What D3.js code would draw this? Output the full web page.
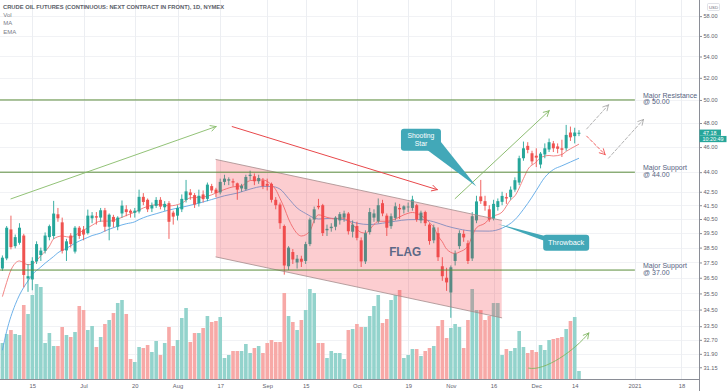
<!DOCTYPE html>
<html><head><meta charset="utf-8">
<script src="https://cdn.jsdelivr.net/npm/d3@7"></script>
<style>html,body{margin:0;padding:0;background:#fff;overflow:hidden}svg{display:block;font-family:"Liberation Sans",Arial,sans-serif}</style>
</head><body><svg id="c" width="728" height="391"></svg>
<script>
// ---------------- DATA ----------------
const dates = ["2020-06-04","2020-06-05","2020-06-08","2020-06-09","2020-06-10","2020-06-11","2020-06-12","2020-06-15","2020-06-16","2020-06-17","2020-06-18","2020-06-19","2020-06-22","2020-06-23","2020-06-24","2020-06-25","2020-06-26","2020-06-29","2020-06-30",
"2020-07-01","2020-07-02","2020-07-06","2020-07-07","2020-07-08","2020-07-09","2020-07-10","2020-07-13","2020-07-14","2020-07-15","2020-07-16","2020-07-17","2020-07-20","2020-07-21","2020-07-22","2020-07-23","2020-07-24","2020-07-27","2020-07-28","2020-07-29","2020-07-30","2020-07-31",
"2020-08-03","2020-08-04","2020-08-05","2020-08-06","2020-08-07","2020-08-10","2020-08-11","2020-08-12","2020-08-13","2020-08-14","2020-08-17","2020-08-18","2020-08-19","2020-08-20","2020-08-21","2020-08-24","2020-08-25","2020-08-26","2020-08-27","2020-08-28","2020-08-31",
"2020-09-01","2020-09-02","2020-09-03","2020-09-04","2020-09-08","2020-09-09","2020-09-10","2020-09-11","2020-09-14","2020-09-15","2020-09-16","2020-09-17","2020-09-18","2020-09-21","2020-09-22","2020-09-23","2020-09-24","2020-09-25","2020-09-28","2020-09-29","2020-09-30",
"2020-10-01","2020-10-02","2020-10-05","2020-10-06","2020-10-07","2020-10-08","2020-10-09","2020-10-12","2020-10-13","2020-10-14","2020-10-15","2020-10-16","2020-10-19","2020-10-20","2020-10-21","2020-10-22","2020-10-23","2020-10-26","2020-10-27","2020-10-28","2020-10-29","2020-10-30",
"2020-11-02","2020-11-03","2020-11-04","2020-11-05","2020-11-06","2020-11-09","2020-11-10","2020-11-11","2020-11-12","2020-11-13","2020-11-16","2020-11-17","2020-11-18","2020-11-19","2020-11-20","2020-11-23","2020-11-24","2020-11-25","2020-11-27","2020-11-30",
"2020-12-01","2020-12-02","2020-12-03","2020-12-04","2020-12-07","2020-12-08","2020-12-09","2020-12-10","2020-12-11","2020-12-14","2020-12-15"];

const open = [37.10,37.77,39.76,38.60,38.83,39.33,36.45,36.39,37.57,38.00,
38.28,39.22,39.30,40.84,40.26,38.31,39.33,38.23,39.88,39.75,
39.50,40.55,40.70,40.60,41.13,39.95,40.65,39.95,40.90,41.20,
41.10,40.95,41.04,42.12,41.90,41.26,41.45,41.90,41.35,41.65,
40.96,40.74,41.20,41.89,42.45,42.25,41.65,42.30,41.97,42.93,
42.66,42.45,43.25,43.35,43.30,43.14,42.75,42.69,43.70,43.68,
43.30,43.35,43.10,43.10,41.90,41.55,40.00,37.25,38.20,37.50,
37.75,37.60,38.74,40.46,41.45,41.50,39.70,39.85,39.95,40.40,
40.60,40.89,39.60,40.00,39.00,37.57,39.57,40.60,40.34,41.65,
40.74,39.99,40.58,41.30,41.18,41.35,41.30,41.50,40.40,41.00,
40.10,39.00,39.50,37.25,36.50,35.56,37.60,38.60,39.45,38.80,
37.77,40.40,42.15,41.80,41.20,40.53,41.37,41.75,42.10,42.10,
42.66,43.20,45.10,46.10,45.50,45.30,44.60,45.40,45.80,46.30,
46.05,45.90,45.90,47.20,46.90,47.10];

const high = [37.97,40.00,40.74,39.40,40.20,39.45,37.40,37.85,38.93,38.50,
39.55,40.10,41.82,41.30,40.60,39.10,39.50,40.00,40.00,40.00,
41.18,41.00,41.00,41.30,41.30,40.90,40.80,40.70,41.85,41.50,
41.20,41.30,42.66,42.40,42.00,41.70,42.10,42.10,41.80,41.80,
41.10,41.50,42.30,43.40,42.70,42.40,42.66,42.60,43.20,43.10,
42.80,43.50,43.80,43.60,43.50,43.20,43.10,43.80,44.12,43.90,
43.80,43.55,43.50,43.20,42.10,41.70,40.10,38.60,38.40,38.00,
37.95,38.90,40.60,41.40,41.97,41.60,40.10,40.20,40.70,41.00,
41.10,41.00,40.40,40.30,39.20,39.70,41.30,41.20,42.00,41.90,
40.90,40.90,41.70,41.60,41.50,41.70,42.20,41.60,41.10,41.10,
40.20,40.10,39.90,37.85,37.15,37.30,38.30,39.70,39.70,39.00,
41.00,42.20,43.40,42.20,41.50,41.90,42.00,42.50,42.40,42.90,
43.60,45.30,46.45,46.40,45.70,45.90,45.60,46.30,46.70,46.50,
46.30,46.60,47.84,47.70,47.60,47.40];

const low = [36.95,37.65,38.38,38.45,38.70,35.88,35.60,35.70,37.40,37.60,
38.10,39.00,39.10,40.30,38.10,37.60,38.50,38.10,39.10,39.00,
39.40,40.20,40.10,40.30,39.60,39.00,39.90,39.70,40.60,40.70,
40.60,40.60,40.90,41.50,41.00,41.00,41.30,41.20,41.10,39.10,
40.10,40.40,41.00,41.70,41.90,41.30,41.40,41.70,41.80,42.40,
42.10,42.30,43.00,43.00,42.90,41.90,42.50,42.60,43.40,43.00,
43.10,42.70,42.60,41.70,41.20,39.80,36.70,37.00,37.40,37.10,
37.20,37.40,38.60,40.20,41.20,39.30,39.30,39.60,39.70,40.10,
40.30,39.40,39.20,39.00,37.20,37.40,39.40,40.30,40.20,40.70,
39.30,39.80,40.40,40.50,40.90,41.00,41.10,40.30,40.20,40.00,
38.70,38.80,37.60,36.30,35.66,34.00,37.30,38.40,38.90,37.40,
37.60,40.20,41.60,41.10,40.30,40.40,41.10,41.50,41.60,41.90,
42.50,43.00,44.90,45.50,44.60,44.40,44.30,45.10,45.60,45.60,
45.50,45.20,45.70,46.50,46.30,46.90];

const close = [37.82,39.88,38.53,39.22,39.88,36.68,36.60,37.61,38.74,38.30,
39.33,39.99,40.89,40.55,38.28,38.93,38.74,39.88,39.30,39.40,
40.74,40.75,40.60,41.13,39.95,40.81,40.30,40.60,41.47,41.00,
40.95,41.10,42.12,41.74,41.20,41.50,41.89,41.40,41.60,40.30,
40.67,41.30,41.97,42.53,42.25,41.55,42.20,41.95,43.04,42.60,
42.41,43.25,43.50,43.45,43.20,42.66,42.95,43.63,43.80,43.30,
43.55,42.93,42.95,41.90,41.50,40.20,37.30,38.50,37.70,37.75,
37.55,38.74,40.46,41.20,41.35,39.50,39.80,39.95,40.60,40.85,
40.90,39.63,40.10,39.17,37.57,39.50,41.00,40.90,41.50,40.90,
39.88,40.70,41.42,41.20,41.42,41.40,41.92,40.46,40.96,40.20,
38.95,39.90,37.85,36.60,36.20,37.18,38.10,39.50,39.20,37.60,
40.70,41.78,41.80,41.45,40.46,41.60,41.80,42.19,42.00,42.66,
43.38,45.10,45.90,45.77,44.85,45.15,45.47,45.90,46.40,45.90,
45.86,45.78,47.00,46.80,47.20,47.18];

// volume, thousands of contracts
const volume = [252,315,343,315,308,518,455,588,665,644,
252,322,231,231,364,308,294,329,511,483,
343,371,224,294,385,413,462,532,553,455,
140,119,224,217,238,189,266,168,252,364,
231,273,427,497,259,322,322,357,441,399,
406,434,147,168,196,196,196,245,182,217,
231,182,252,273,259,259,602,441,399,343,
413,483,630,602,252,252,147,196,182,182,
140,343,350,385,364,364,441,511,588,392,
420,553,588,623,147,168,210,210,161,196,
217,231,371,413,287,357,385,364,217,413,
630,483,483,413,441,532,532,168,210,196,
217,336,224,182,203,189,238,203,273,280,
287,294,350,406,434,56];

// MA and EMA readings: [bar index, value]
const maPts = [[0,35.3],[1,36.2],[2,37.0],[4,37.6],[6,37.35],[7,37.4],[9,37.95],[11,38.6],[12,39.1],[14,39.3],[16,39.2],[17,39.35],[19,39.7],[21,40.05],[23,40.35],[25,40.35],[27,40.5],[29,40.75],[31,41.0],[33,41.3],[35,41.5],[37,41.55],[39,41.45],[42,41.65],[44,42.05],[47,42.1],[49,42.27],[51,42.55],[54,42.87],[56,42.95],[58,43.35],[61,43.4],[63,43.03],[64,42.66],[65,42.0],[66,41.3],[67,40.5],[68,39.9],[70,39.3],[72,39.64],[73,40.4],[74,40.8],[76,40.62],[78,40.5],[79,40.58],[81,40.4],[82,40.1],[84,39.55],[85,39.5],[87,40.1],[88,40.34],[90,40.34],[92,40.5],[94,40.8],[96,40.97],[98,40.75],[100,40.25],[101,39.9],[102,39.3],[103,38.9],[104,38.4],[106,38.1],[107,38.2],[109,38.6],[110,39.3],[111,39.88],[113,40.2],[114,40.5],[115,40.7],[117,41.0],[119,41.9],[120,42.2],[122,43.5],[123,44.2],[125,44.8],[126,45.15],[128,45.32],[129,45.28],[131,45.4],[132,45.65],[134,46.05],[135,46.24]];
const emaPts = [[0,32.1],[1,33.2],[3,34.8],[4,35.4],[6,36.3],[7,36.7],[9,37.2],[10,37.45],[12,37.9],[13,38.15],[15,38.45],[17,38.8],[18,38.95],[20,39.2],[21,39.33],[23,39.5],[24,39.65],[26,39.88],[28,40.08],[29,40.16],[31,40.3],[32,40.46],[34,40.7],[36,40.88],[39,41.15],[43,41.42],[46,41.65],[49,41.92],[52,42.2],[55,42.4],[58,42.7],[61,42.9],[63,42.9],[65,42.7],[67,42.0],[69,41.3],[71,40.9],[74,40.5],[77,40.55],[80,40.45],[83,40.2],[86,40.1],[89,40.2],[92,40.34],[95,40.45],[98,40.46],[101,40.3],[104,40.0],[107,39.78],[110,39.65],[114,39.64],[117,39.85],[120,40.45],[122,41.2],[124,42.1],[125,42.6],[127,43.6],[129,44.2],[131,44.5],[133,44.8],[135,45.1]];

const yTicks = [58,56,54,52,50,48,46,44,42.5,41.5,40.5,39.5,38.5,37.5,36.5,35.5,34.5,33.5,32.7,31.9,31.15];
const xTickIdx = [7,19,31,41,51,62,71,83,95,105,115,125,134,148,159];
const xTickLabels = ["15","Jul","20","Aug","17","Sep","15","Oct","19","Nov","16","Dec","14","2021","18"];

const levels = [50, 44, 37];
const levelNames = ["Major Resistance","Major Support","Major Support"];
const lastPrice = 47.18, countdown = "10:20:49";

// ---------------- SCALES ----------------
const svg = d3.select("#c");
const AX = 699.5, BOT = 379;
const x = d3.scaleLinear().domain([0, 159]).range([2.4, 2.4 + 159 * 4.271]);
const y = d3.scaleLog().domain([30.51, 59.68]).range([BOT, 0]);
const yv = d3.scaleLinear().domain([0, d3.max(volume)]).range([BOT, 284]);
const P = (i, p) => [x(i), y(p)];

const UP = "#26a69a", DN = "#ef5350";
const UPV = "#93d3cc", DNV = "#f7a9a7";

// grid
const grid = svg.append("g");
grid.selectAll(".hg").data(yTicks).join("line")
  .attr("x1", 0).attr("x2", AX).attr("y1", d => Math.round(y(d)) + 0.5).attr("y2", d => Math.round(y(d)) + 0.5)
  .attr("stroke", "#f1f2f5").attr("stroke-width", 1);
grid.selectAll(".vg").data(xTickIdx).join("line")
  .attr("x1", d => Math.round(x(d)) + 0.5).attr("x2", d => Math.round(x(d)) + 0.5).attr("y1", 0).attr("y2", BOT)
  .attr("stroke", "#eceef2").attr("stroke-width", 1);

// volume
const bars = d3.range(dates.length);
const isUp = i => close[i] >= open[i];
svg.append("g").selectAll("rect").data(bars).join("rect")
  .attr("x", i => x(i) - 1.8).attr("width", 3.6)
  .attr("y", i => yv(volume[i])).attr("height", i => BOT - yv(volume[i]))
  .attr("fill", i => isUp(i) ? UPV : DNV);

// MA / EMA
const line = d3.line().x(d => x(d[0])).y(d => y(d[1])).curve(d3.curveMonotoneX);
svg.append("path").attr("d", line(emaPts)).attr("fill", "none").attr("stroke", "#5ea8e6").attr("stroke-width", 0.9);
svg.append("path").attr("d", line(maPts)).attr("fill", "none").attr("stroke", "#f07878").attr("stroke-width", 0.9);

// candles
const cg = svg.append("g");
cg.selectAll("line").data(bars).join("line")
  .attr("x1", i => x(i)).attr("x2", i => x(i))
  .attr("y1", i => y(high[i])).attr("y2", i => y(low[i]))
  .attr("stroke", i => isUp(i) ? UP : DN).attr("stroke-width", 0.9);
cg.selectAll("rect").data(bars).join("rect")
  .attr("x", i => x(i) - 1.5).attr("width", 3)
  .attr("y", i => y(Math.max(open[i], close[i])))
  .attr("height", i => Math.max(0.8, Math.abs(y(open[i]) - y(close[i]))))
  .attr("fill", i => isUp(i) ? UP : DN);

// ---------------- DRAWINGS ----------------
const dr = svg.append("g");
function seg(a, b, color, w, dash) {
  const l = dr.append("line").attr("x1", a[0]).attr("y1", a[1]).attr("x2", b[0]).attr("y2", b[1])
    .attr("stroke", color).attr("stroke-width", w).attr("stroke-linecap", "round");
  if (dash) l.attr("stroke-dasharray", dash);
}
function head(from, tip, color, w, len = 6, ang = 0.5) {
  const a = Math.atan2(tip[1] - from[1], tip[0] - from[0]);
  [ang, -ang].forEach(s => seg(tip, [tip[0] - len * Math.cos(a + s), tip[1] - len * Math.sin(a + s)], color, w));
}
function arrow(a, b, color, w, dash) { seg(a, b, color, w, dash); head(a, b, color, w); }

// flag channel
const flag = [P(50, 45.0), P(116.9, 40.4), P(116.9, 34.0), P(50, 37.87)];
dr.append("polygon").attr("points", flag.map(p => p.join(",")).join(" "))
  .attr("fill", "#f23645").attr("fill-opacity", 0.25);
seg(flag[0], flag[1], "#a58c8c", 0.8);
seg(flag[3], flag[2], "#a58c8c", 0.8);
dr.append("text").attr("x", x(94.3)).attr("y", y(37.9)).attr("text-anchor", "middle")
  .attr("font-size", 13).attr("font-weight", "bold").attr("fill", "#5c6886")
  .attr("textLength", 32).attr("lengthAdjust", "spacingAndGlyphs").text("FLAG");

// support / resistance
levels.forEach((lv, k) => {
  seg([0, y(lv)], [x(148), y(lv)], "#5a8c3a", 1);
  const tx = x(148) + 8.5;
  dr.append("text").attr("x", tx).attr("y", y(lv) - 2).attr("font-size", 7).attr("fill", "#56637f").text(levelNames[k]);
  dr.append("text").attr("x", tx).attr("y", y(lv) + 4.5).attr("font-size", 7).attr("fill", "#56637f").text("@ " + d3.format(".2f")(lv));
});

// trend arrows
arrow(P(2.0, 41.97), P(50.0, 47.7), "#86bb68", 0.9);
arrow(P(53.8, 47.7), P(101.8, 42.66), "#e8484b", 1);
arrow(P(106, 41.99), P(128, 49.05), "#80b662", 0.9);
arrow(P(136.8, 47.5), P(141.9, 49.56), "#a9a9a9", 0.9, "3,2");
arrow(P(136.8, 46.9), P(141.1, 45.4), "#ef4f4f", 0.9, "3,2");
arrow(P(141.9, 45.1), P(150.1, 48.3), "#a9a9a9", 0.9, "3,2");

// curved volume arrow
const c0 = P(123.1, 31.11), c1 = P(127.0, 30.90), c2 = P(134.1, 32.12), c3 = P(137.3, 33.10);
dr.append("path").attr("d", `M${c0}C${c1} ${c2} ${c3}`).attr("fill", "none").attr("stroke", "#80b662").attr("stroke-width", 0.9);
head(c2, c3, "#80b662", 0.9);

// callouts
const CALL = "#42a8b8";
function callout(center, w, h, tip, base1, base2, lines, fs, lh) {
  const [cx, cy] = center;
  dr.append("polygon").attr("points", [[cx + base1[0], cy + base1[1]], [cx + base2[0], cy + base2[1]], tip].map(p => p.join(",")).join(" ")).attr("fill", CALL);
  dr.append("rect").attr("x", cx - w / 2).attr("y", cy - h / 2).attr("width", w).attr("height", h).attr("rx", 3).attr("fill", CALL);
  lines.forEach((t, k) => dr.append("text").attr("x", cx).attr("y", cy - (lines.length - 1) * lh / 2 + k * lh + fs * 0.35)
    .attr("text-anchor", "middle").attr("font-size", fs).attr("fill", "#fff").text(t));
}
callout(P(98.0, 46.6), 40, 22, P(111.0, 42.9), [6, 10], [19, 1], ["Shooting", "Star"], 6.8, 8);
callout(P(132.0, 38.84), 46, 16, P(116.0, 40.15), [-22, -7], [-22, -2], ["Throwback"], 7.4, 8);

// ---------------- AXES ----------------
const yAxis = svg.append("g").attr("transform", `translate(${AX},0)`)
  .call(d3.axisRight(y).tickValues(yTicks).tickFormat(d3.format(".2f")).tickSize(2.5).tickPadding(1.5));
yAxis.select(".domain").remove();
yAxis.selectAll("line").attr("stroke", "#8a8d96");
yAxis.selectAll("text").attr("font-size", 5.6).attr("fill", "#5f626d").attr("font-family", "Liberation Sans, Arial, sans-serif");
svg.append("line").attr("x1", AX).attr("x2", AX).attr("y1", 0).attr("y2", 391).attr("stroke", "#8a8d96").attr("stroke-width", 1);

const xAxis = svg.append("g").attr("transform", `translate(0,${BOT})`)
  .call(d3.axisBottom(x).tickValues(xTickIdx).tickFormat((d, i) => xTickLabels[i]).tickSize(0).tickPadding(5));
xAxis.select(".domain").remove();
xAxis.selectAll("text").attr("font-size", 5.8).attr("fill", "#5f626d").attr("font-family", "Liberation Sans, Arial, sans-serif");
svg.append("line").attr("x1", 0).attr("x2", AX).attr("y1", BOT + 0.5).attr("y2", BOT + 0.5).attr("stroke", "#8a8d96").attr("stroke-width", 1);

// last price labels
const ly = y(lastPrice);
svg.append("rect").attr("x", AX).attr("y", ly - 3.2).attr("width", 21.5).attr("height", 6.2).attr("fill", UP);
svg.append("text").attr("x", AX + 3.5).attr("y", ly + 1.9).attr("font-size", 5.4).attr("fill", "#fff").text(d3.format(".2f")(lastPrice));
svg.append("rect").attr("x", AX).attr("y", ly + 3.2).attr("width", 27).attr("height", 6.2).attr("fill", UP);
svg.append("text").attr("x", AX + 3).attr("y", ly + 8.2).attr("font-size", 5.4).attr("fill", "#fff").text(countdown);

// USD tag
svg.append("rect").attr("x", 707.5).attr("y", 3.5).attr("width", 12).attr("height", 7).attr("fill", "#fff").attr("stroke", "#d3d6de").attr("stroke-width", 0.7).attr("rx", 1);
svg.append("text").attr("x", 713.5).attr("y", 8.6).attr("text-anchor", "middle").attr("font-size", 4.3).attr("fill", "#6a6d78").text("USD");

// title & legend
svg.append("text").attr("x", 3).attr("y", 9).attr("font-size", 6.2).attr("font-weight", "bold").attr("fill", "#5b5e68")
  .attr("textLength", 221).attr("lengthAdjust", "spacingAndGlyphs")
  .text("CRUDE OIL FUTURES (CONTINUOUS: NEXT CONTRACT IN FRONT), 1D, NYMEX");
["Vol", "MA", "EMA"].forEach((t, k) => svg.append("text").attr("x", 3.3).attr("y", 17.2 + k * 8.2).attr("font-size", 6).attr("fill", "#7a7d88").text(t));
</script>
</body></html>
